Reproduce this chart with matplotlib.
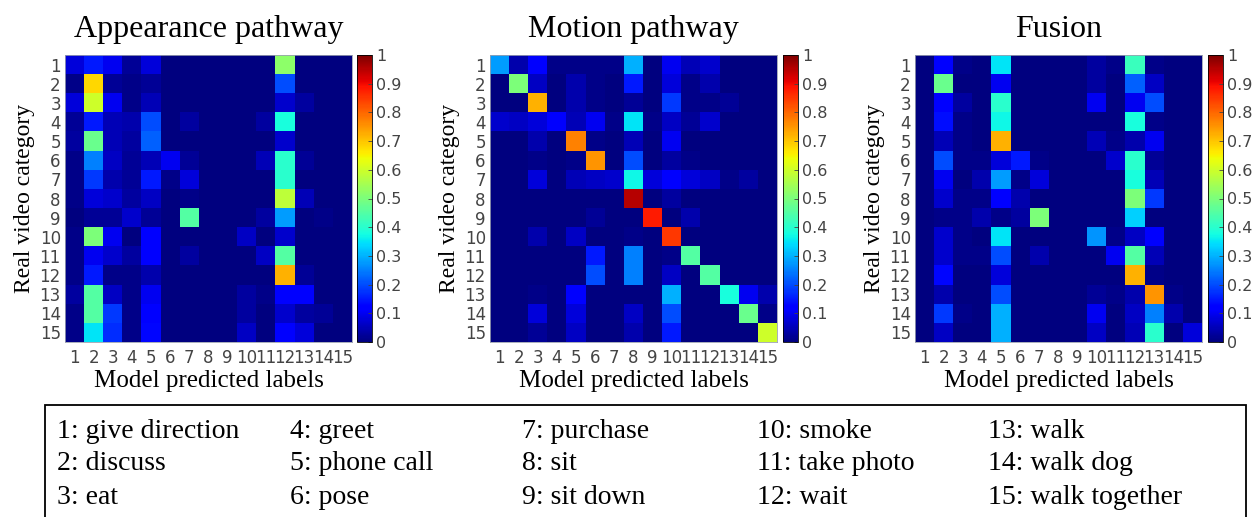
import matplotlib
matplotlib.use("Agg")
import matplotlib.pyplot as plt
import numpy as np
from matplotlib.patches import Rectangle

labels = [str(i) for i in range(1, 16)]
titles = ["Appearance pathway", "Motion pathway", "Fusion"]
actions = ["give direction", "discuss", "eat", "greet", "phone call", "pose",
           "purchase", "sit", "sit down", "smoke", "take photo", "wait",
           "walk", "walk dog", "walk together"]

# rows = real category, columns = predicted label
appearance = [
    [0.08, 0.15, 0.10, 0.02, 0.08, 0, 0, 0, 0, 0, 0, 0.52, 0, 0, 0],
    [0.01, 0.68, 0.02, 0.01, 0.02, 0, 0, 0, 0, 0, 0, 0.20, 0, 0, 0],
    [0.08, 0.60, 0.10, 0.01, 0.05, 0, 0, 0, 0, 0, 0, 0.07, 0.03, 0, 0],
    [0.02, 0.15, 0.05, 0.04, 0.20, 0, 0.03, 0, 0, 0, 0.03, 0.38, 0, 0, 0],
    [0.03, 0.48, 0.05, 0.03, 0.22, 0, 0, 0, 0, 0, 0, 0.07, 0, 0, 0],
    [0.01, 0.25, 0.06, 0.02, 0.05, 0.10, 0.02, 0, 0, 0, 0.05, 0.40, 0.02, 0, 0],
    [0.01, 0.18, 0.04, 0.02, 0.15, 0.01, 0.08, 0, 0, 0, 0, 0.40, 0, 0, 0],
    [0.01, 0.08, 0.07, 0.03, 0.06, 0, 0.01, 0, 0, 0, 0, 0.58, 0.05, 0, 0],
    [0, 0.02, 0.02, 0.07, 0.02, 0, 0.45, 0, 0, 0, 0.03, 0.28, 0, 0.01, 0],
    [0.01, 0.50, 0.10, 0, 0.12, 0, 0, 0, 0, 0.06, 0, 0.07, 0, 0, 0],
    [0.01, 0.10, 0.07, 0.03, 0.12, 0, 0.03, 0, 0, 0, 0.06, 0.45, 0, 0, 0],
    [0.01, 0.15, 0.01, 0.01, 0.04, 0, 0, 0, 0, 0, 0, 0.72, 0.02, 0, 0],
    [0.03, 0.45, 0.06, 0.01, 0.10, 0, 0, 0, 0, 0.03, 0.01, 0.12, 0.12, 0, 0],
    [0.01, 0.45, 0.18, 0.01, 0.12, 0, 0, 0, 0, 0.03, 0, 0.07, 0.03, 0.02, 0],
    [0.01, 0.35, 0.17, 0.01, 0.13, 0, 0, 0, 0, 0.06, 0, 0.12, 0.08, 0, 0],
]

motion = [
    [0.28, 0.04, 0.12, 0.01, 0.01, 0.01, 0.01, 0.30, 0, 0.10, 0.05, 0.07, 0, 0, 0],
    [0, 0.50, 0.06, 0, 0.04, 0.01, 0, 0.15, 0, 0.08, 0.01, 0.04, 0, 0, 0],
    [0, 0, 0.72, 0, 0.04, 0.01, 0, 0.02, 0, 0.18, 0.01, 0.01, 0.02, 0, 0],
    [0.07, 0.06, 0.08, 0.12, 0.05, 0.10, 0.01, 0.35, 0.01, 0.06, 0.02, 0.07, 0, 0, 0],
    [0, 0, 0.04, 0, 0.77, 0.01, 0, 0.05, 0, 0.10, 0, 0, 0, 0, 0],
    [0, 0, 0.01, 0, 0.01, 0.75, 0, 0.20, 0, 0.03, 0.01, 0, 0, 0, 0],
    [0, 0, 0.08, 0, 0.05, 0.06, 0.07, 0.37, 0.08, 0.12, 0.08, 0.06, 0.01, 0.03, 0],
    [0, 0, 0, 0, 0, 0, 0, 0.95, 0, 0.03, 0, 0, 0, 0, 0],
    [0, 0, 0, 0, 0, 0.02, 0, 0, 0.88, 0, 0.04, 0, 0, 0, 0],
    [0, 0, 0.04, 0, 0.06, 0, 0, 0.01, 0, 0.85, 0, 0, 0, 0, 0],
    [0, 0, 0, 0, 0, 0.15, 0, 0.25, 0, 0.01, 0.45, 0, 0, 0, 0],
    [0, 0, 0, 0, 0, 0.20, 0, 0.25, 0, 0.06, 0, 0.45, 0, 0, 0],
    [0, 0, 0.01, 0, 0.12, 0, 0, 0, 0, 0.30, 0, 0, 0.38, 0.10, 0.04],
    [0, 0, 0.08, 0, 0.08, 0, 0, 0.06, 0, 0.20, 0, 0, 0, 0.48, 0.01],
    [0, 0, 0.02, 0, 0.06, 0, 0, 0.04, 0, 0.15, 0, 0, 0, 0, 0.60],
]

fusion = [
    [0, 0.12, 0.01, 0, 0.35, 0, 0, 0, 0, 0.03, 0.01, 0.42, 0.01, 0, 0],
    [0, 0.48, 0, 0, 0.10, 0, 0, 0, 0, 0.03, 0, 0.22, 0.06, 0, 0],
    [0, 0.12, 0.03, 0, 0.40, 0, 0, 0, 0, 0.10, 0, 0.10, 0.20, 0, 0],
    [0, 0.14, 0.01, 0, 0.37, 0, 0, 0, 0, 0, 0, 0.38, 0.01, 0, 0],
    [0, 0.05, 0.01, 0, 0.72, 0, 0, 0, 0, 0.05, 0.01, 0.04, 0.10, 0, 0],
    [0, 0.20, 0.01, 0.01, 0.08, 0.15, 0.01, 0, 0, 0, 0.07, 0.40, 0.02, 0, 0],
    [0, 0.10, 0, 0.04, 0.28, 0.01, 0.08, 0, 0, 0, 0, 0.38, 0.05, 0, 0],
    [0, 0.07, 0.01, 0.01, 0.12, 0.04, 0, 0, 0, 0, 0, 0.50, 0.18, 0, 0],
    [0, 0.01, 0.01, 0.04, 0.01, 0.03, 0.50, 0, 0, 0, 0, 0.33, 0, 0, 0],
    [0, 0.07, 0.01, 0, 0.35, 0, 0, 0, 0, 0.27, 0.01, 0.06, 0.12, 0, 0],
    [0, 0.07, 0.01, 0.01, 0.20, 0, 0.04, 0, 0, 0, 0.10, 0.45, 0.05, 0, 0],
    [0, 0.13, 0, 0, 0.08, 0, 0, 0, 0, 0, 0, 0.72, 0.01, 0, 0],
    [0, 0.04, 0, 0, 0.20, 0, 0, 0, 0, 0.02, 0.01, 0.04, 0.75, 0.01, 0],
    [0, 0.18, 0.01, 0, 0.30, 0, 0, 0, 0, 0.10, 0, 0.06, 0.25, 0.04, 0],
    [0, 0.06, 0, 0, 0.30, 0, 0, 0, 0, 0.06, 0, 0.05, 0.40, 0, 0.08],
]

W, H = 1255, 517
fig = plt.figure(figsize=(W / 100, H / 100), dpi=100)
serif = "Liberation Serif"
tick_col = "#444444"

panels = [(65, 357, appearance), (490, 783, motion), (915, 1208, fusion)]
for (x0, cx, mat), title in zip(panels, titles):
    ax = fig.add_axes([x0 / W, (H - 342) / H, 287 / W, 287 / H])
    im = ax.imshow(np.array(mat), cmap="jet", vmin=0, vmax=1, aspect="auto",
                   interpolation="nearest")
    ax.set_xticks(range(15))
    ax.set_xticklabels(labels)
    ax.set_yticks(range(15))
    ax.set_yticklabels(labels)
    ax.tick_params(axis="x", length=0, labelsize=12, colors=tick_col, pad=5)
    ax.tick_params(axis="y", length=0, labelsize=12, colors=tick_col, pad=3)
    for s in ax.spines.values():
        s.set_color("#9aa0b0")
        s.set_linewidth(0.6)
    ax.set_title(title, family=serif, fontsize=23, pad=13)
    ax.set_xlabel("Model predicted labels", family=serif, fontsize=18, labelpad=2)
    ax.set_ylabel("Real video category", family=serif, fontsize=17, labelpad=3)

    cax = fig.add_axes([cx / W, (H - 342) / H, 15 / W, 287 / H])
    cb = fig.colorbar(im, cax=cax, ticks=np.linspace(0, 1, 11))
    cb.ax.set_yticklabels(["0"] + ["%.1f" % v for v in np.linspace(0.1, 0.9, 9)] + ["1"])
    cb.ax.tick_params(length=3, width=0.6, labelsize=11.5, colors=tick_col, pad=3,
                      direction="in")
    cb.outline.set_linewidth(0.6)

# legend box
fig.patches.append(Rectangle((45 / W, -0.05), 1201 / W, (H - 405) / H + 0.05,
                             transform=fig.transFigure, fill=False,
                             edgecolor="black", linewidth=1.3))
col_x = [57, 290, 522, 757, 988]
row_y = [431, 464, 497]
for i, name in enumerate(actions):
    c, r = divmod(i, 3)
    fig.text(col_x[c] / W, 1 - row_y[r] / H, "%d: %s" % (i + 1, name),
             family=serif, fontsize=20, va="center", ha="left")

fig.savefig("out.png", dpi=100)
